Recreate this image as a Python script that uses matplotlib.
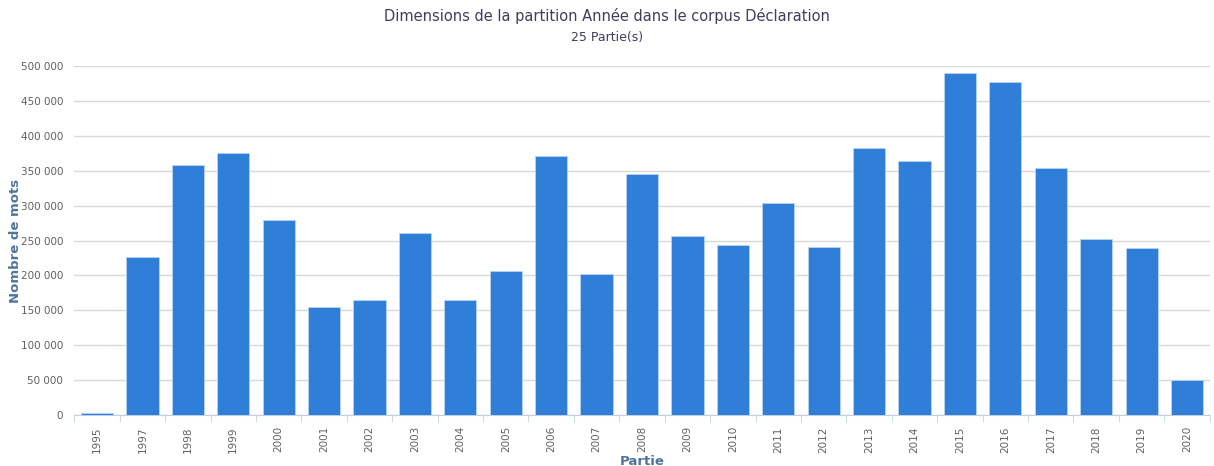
import numpy as np
import matplotlib.pyplot as plt
from matplotlib.ticker import FuncFormatter, FixedLocator

annees = ['1995', '1997', '1998', '1999', '2000', '2001', '2002', '2003', '2004', '2005',
          '2006', '2007', '2008', '2009', '2010', '2011', '2012', '2013', '2014', '2015',
          '2016', '2017', '2018', '2019', '2020']
mots = [3000, 226000, 358000, 375000, 279000, 155000, 165000, 261000, 165000, 206000,
        371000, 202000, 345000, 256000, 243000, 304000, 241000, 382000, 364000, 490000,
        477000, 354000, 252000, 239000, 50000]

fig = plt.figure(figsize=(12.14, 4.66), dpi=100)
ax = fig.add_axes([0.0612, 0.1094, 0.9353, 0.749])

x = np.arange(len(annees))
ax.bar(x, mots, width=0.71, color='#2F7ED8', edgecolor='#B8D4F2', linewidth=0.6, zorder=3)

ax.set_xlim(-0.5, len(annees) - 0.5)
ax.set_ylim(0, 500000)
ax.set_yticks(np.arange(0, 500001, 50000))
ax.yaxis.set_major_formatter(FuncFormatter(lambda v, p: '{:,}'.format(int(v)).replace(',', ' ')))
ax.grid(axis='y', color='#D8D8D8', linewidth=1, zorder=0)

ax.set_xticks(x)
ax.set_xticklabels(annees, rotation=90, fontsize=7.5, color='#606060')
ax.tick_params(axis='x', which='major', length=0, pad=8)
ax.xaxis.set_minor_locator(FixedLocator(np.arange(-0.5, len(annees), 1)))
ax.tick_params(axis='x', which='minor', length=5, color='#C0D0E0')
ax.tick_params(axis='y', length=0, labelsize=7.5, labelcolor='#606060', pad=8)

for s in ['top', 'right', 'left']:
    ax.spines[s].set_visible(False)
ax.spines['bottom'].set_color('#C0D0E0')

ax.set_ylabel('Nombre de mots', color='#4D759E', fontsize=9.5, fontweight='bold')
ax.yaxis.set_label_coords(-0.046, 0.5)
ax.set_xlabel('Partie', color='#4D759E', fontsize=9.5, fontweight='bold', labelpad=2)

fig.text(0.5, 0.965, 'Dimensions de la partition Année dans le corpus Déclaration',
         ha='center', va='center', fontsize=10.5, color='#3E3E5E')
fig.text(0.5, 0.92, '25 Partie(s)', ha='center', va='center', fontsize=9, color='#3E3E5E')

plt.savefig('out.png', dpi=100)
